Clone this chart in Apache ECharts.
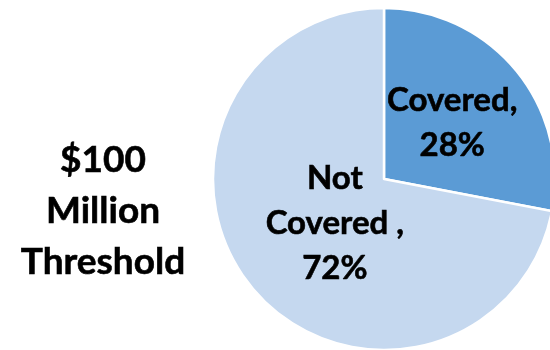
<!DOCTYPE html>
<html>
<head>
<meta charset="utf-8">
<script src="https://cdn.jsdelivr.net/npm/echarts@6/dist/echarts.min.js"></script>
<style>
  html, body { margin: 0; padding: 0; background: #fff; }
  #chart { width: 550px; height: 350px; }
</style>
</head>
<body>
<div id="chart"></div>
<script>
// Share of items covered under the $100 million threshold
const categories = ['Covered,', 'Not\nCovered ,'];
const shares = [28, 72];
const colors = ['#5B9BD5', '#C5D8EF'];
const titleLines = ['$100', 'Million', 'Threshold'];

const FONT = 'Lato, "Open Sans", sans-serif';

const chart = echarts.init(document.getElementById('chart'), null, { renderer: 'canvas' });

chart.setOption({
  animation: false,
  graphic: [{
    type: 'text',
    x: 103,
    y: 211,
    style: {
      text: titleLines.join('\n'),
      font: 'bold 37px ' + FONT,
      fill: '#000',
      stroke: '#000',
      lineWidth: 0.6,
      align: 'center',
      verticalAlign: 'middle',
      lineHeight: 51
    }
  }],
  series: [{
    type: 'pie',
    center: [384, 179],
    radius: 171,
    startAngle: 90,
    clockwise: true,
    data: categories.map((name, i) => ({
      name: name,
      value: shares[i],
      itemStyle: { color: colors[i] }
    })),
    itemStyle: { borderColor: '#fff', borderWidth: 2.5 },
    label: {
      show: true,
      position: 'inside',
      formatter: p => p.name + '\n' + p.value + '%',
      color: '#000',
      textBorderColor: '#000',
      textBorderWidth: 0.6,
      fontFamily: FONT,
      fontWeight: 'bold',
      fontSize: 33,
      lineHeight: 45
    },
    labelLine: { show: false },
    labelLayout: function (params) {
      return params.dataIndex === 0 ? { dx: 0, dy: 0 } : { dx: 19, dy: -12 };
    },
    emphasis: { disabled: true }
  }]
});
</script>
</body>
</html>
